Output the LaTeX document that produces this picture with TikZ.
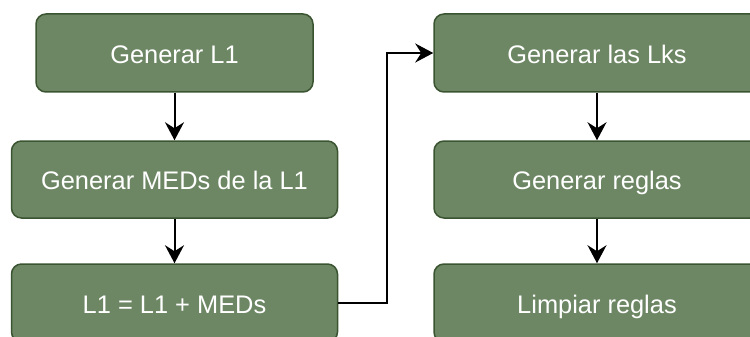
\documentclass[tikz,border=0pt]{standalone}
\usepackage{fontspec}
\setmainfont{Liberation Sans}
\usetikzlibrary{arrows.meta}
\definecolor{boxfill}{HTML}{6D8764}
\definecolor{boxline}{HTML}{3A5431}
\tikzset{
  stepbox/.style={draw=boxline, fill=boxfill, line width=1.5pt, rounded corners=10pt,
    minimum width=326pt, minimum height=78pt, inner sep=0pt, text=white,
    text height=20.4pt, text depth=0pt,
    font=\fontsize{25.4pt}{30pt}\selectfont},
  flow/.style={line width=2pt, -{Stealth[length=18pt,width=19pt,inset=6pt]}}
}
\begin{document}
\begin{tikzpicture}[x=1pt,y=-1pt]
  \useasboundingbox (0,0) rectangle (750,337);
  \clip (0,0) rectangle (750,337);
  % left column
  \node[stepbox, minimum width=277pt] (l1) at (174.5,53) {Generar L1};
  \node[stepbox, minimum height=77pt] (l2) at (174.5,179.5) {Generar MEDs de la L1};
  \node[stepbox] (l3) at (174.5,303) {L1 = L1 + MEDs};
  % right column
  \node[stepbox] (r1) at (597,53) {Generar las Lks};
  \node[stepbox, minimum height=77pt] (r2) at (597,179.5) {Generar reglas};
  \node[stepbox] (r3) at (597,303) {Limpiar reglas};
  % connectors
  \draw[flow] (l1) -- (l2);
  \draw[flow] (l2) -- (l3);
  \draw[flow] (l3.east) -- ++(48.5,0) |- (r1.west);
  \draw[flow] (r1) -- (r2);
  \draw[flow] (r2) -- (r3);
\end{tikzpicture}
\end{document}
